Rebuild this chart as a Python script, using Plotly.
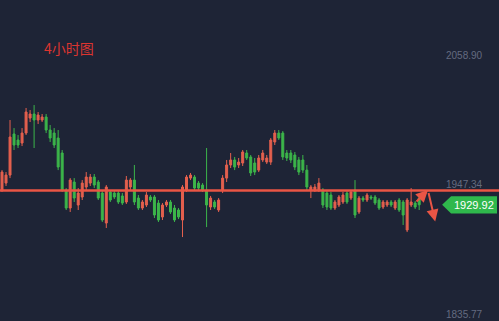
import plotly.graph_objects as go

# OHLC data (4-hour candles)
opens = [1942.6, 1948.6, 1955.5, 1990.9, 1985.7, 1983.1, 1991.7, 2004.6, 2008.1, 2002.9,
         2002.9, 2005.5, 1994.3, 1991.7, 1987.4, 1974.5, 1942.6, 1927.1, 1949.5, 1929.7,
         1936.6, 1945.2, 1948.6, 1953.8, 1949.5, 1940.0, 1914.2, 1940.9, 1940.0, 1940.0,
         1937.5, 1932.3, 1945.2, 1951.2, 1935.7, 1927.1, 1929.7, 1936.6, 1936.6, 1931.4,
         1919.4, 1929.7, 1932.3, 1927.1, 1925.4, 1916.8, 1942.6, 1952.9, 1953.8, 1948.6,
         1946.9, 1942.6, 1928.0, 1932.3, 1925.4, 1942.6, 1952.9, 1964.2, 1968.5, 1964.2,
         1965.9, 1974.5, 1971.1, 1965.9, 1959.8, 1968.5, 1966.7, 1966.7, 1984.0, 1991.7,
         1991.7, 1974.5, 1974.5, 1972.8, 1968.5, 1968.5, 1959.8, 1942.6, 1942.6, 1942.6,
         1942.6, 1940.0, 1938.3, 1927.1, 1929.7, 1932.3, 1940.0, 1935.7, 1942.6, 1923.7,
         1935.7, 1934.0, 1936.6, 1936.6, 1934.0, 1928.0, 1929.7, 1932.3, 1927.1, 1934.0,
         1932.3, 1908.2, 1929.7, 1931.4, 1935.7]
highs = [1959.8, 1958.1, 2002.9, 1996.0, 1990.0, 1996.0, 2013.3, 2011.5, 2015.8, 2009.8,
         2008.1, 2008.1, 1998.6, 1996.0, 1994.3, 1977.1, 1944.3, 1952.9, 1952.9, 1944.3,
         1951.2, 1958.1, 1956.4, 1956.4, 1951.2, 1942.6, 1946.9, 1942.6, 1942.6, 1941.7,
         1940.0, 1954.7, 1952.9, 1964.2, 1938.3, 1934.0, 1940.9, 1938.3, 1938.3, 1934.0,
         1931.4, 1934.0, 1934.0, 1929.7, 1927.1, 1946.9, 1955.5, 1957.3, 1955.5, 1950.4,
         1948.6, 1978.8, 1937.5, 1934.0, 1935.7, 1955.5, 1968.5, 1974.5, 1971.1, 1970.2,
         1977.1, 1977.1, 1972.8, 1970.2, 1972.8, 1977.1, 1972.8, 1987.4, 1994.3, 1994.3,
         1993.4, 1977.1, 1977.1, 1975.4, 1971.1, 1972.8, 1964.2, 1946.9, 1947.8, 1952.9,
         1944.3, 1942.6, 1940.9, 1934.0, 1938.3, 1940.9, 1941.7, 1942.6, 1951.2, 1937.5,
         1937.5, 1940.0, 1938.3, 1938.3, 1935.7, 1934.0, 1934.0, 1934.0, 1934.0, 1935.7,
         1934.0, 1935.7, 1944.3, 1933.1, 1937.5]
lows = [1940.9, 1946.1, 1952.9, 1977.1, 1978.8, 1980.5, 1990.0, 2001.2, 1978.8, 1999.5,
        2001.2, 1991.7, 1984.0, 1978.8, 1959.8, 1940.9, 1925.4, 1923.7, 1932.3, 1925.4,
        1934.0, 1942.6, 1946.1, 1944.3, 1934.0, 1915.1, 1909.9, 1932.3, 1934.9, 1930.6,
        1929.7, 1930.6, 1942.6, 1929.7, 1925.4, 1925.4, 1928.0, 1932.3, 1918.5, 1915.1,
        1916.8, 1928.0, 1922.0, 1915.1, 1917.6, 1902.1, 1940.9, 1951.2, 1942.6, 1942.6,
        1940.9, 1910.7, 1925.4, 1926.3, 1923.7, 1940.0, 1949.5, 1961.6, 1959.8, 1961.6,
        1963.3, 1968.5, 1954.7, 1955.5, 1958.1, 1966.7, 1965.0, 1964.2, 1981.4, 1985.7,
        1968.5, 1967.6, 1965.9, 1959.8, 1955.5, 1957.3, 1942.6, 1935.7, 1940.9, 1940.9,
        1927.1, 1925.4, 1925.4, 1925.4, 1928.0, 1930.6, 1930.6, 1934.0, 1918.5, 1922.0,
        1932.3, 1932.3, 1934.0, 1929.7, 1925.4, 1926.3, 1928.0, 1928.0, 1925.4, 1923.7,
        1912.5, 1906.4, 1928.0, 1926.3, 1925.4]
closes = [1958.1, 1955.5, 1988.3, 1981.4, 1981.4, 1991.7, 2009.8, 2008.1, 2002.9, 2007.2,
          2005.5, 1994.3, 1987.4, 1981.4, 1962.4, 1942.6, 1927.1, 1951.2, 1935.7, 1940.0,
          1948.6, 1953.8, 1953.8, 1946.9, 1935.7, 1916.8, 1945.2, 1934.0, 1936.6, 1932.3,
          1931.4, 1951.2, 1951.2, 1932.3, 1927.1, 1932.3, 1938.3, 1934.0, 1921.1, 1916.8,
          1929.7, 1932.3, 1923.7, 1916.8, 1919.4, 1945.2, 1953.8, 1955.5, 1944.3, 1944.3,
          1942.6, 1929.7, 1935.7, 1928.0, 1934.0, 1952.9, 1964.2, 1968.5, 1962.4, 1966.7,
          1975.4, 1970.2, 1957.3, 1958.1, 1970.2, 1974.5, 1970.2, 1985.7, 1991.7, 1987.4,
          1971.1, 1970.2, 1968.5, 1962.4, 1958.1, 1959.8, 1945.2, 1945.2, 1945.2, 1948.6,
          1929.7, 1928.0, 1927.1, 1932.3, 1936.6, 1938.3, 1932.3, 1940.9, 1921.1, 1935.7,
          1934.0, 1938.3, 1935.7, 1931.4, 1927.1, 1932.3, 1932.3, 1929.7, 1932.3, 1925.4,
          1921.1, 1934.0, 1932.3, 1928.0, 1929.9]
bars = list(range(len(opens)))

axis_levels = [2058.90, 1947.34, 1835.77]
axis_labels = ["2058.90", "1947.34", "1835.77"]
support_level = 1942.2
last_price = 1929.92
last_label = "1929.92"
title_text = "4小时图"

BG = "#1e2436"
UP = "#e4604e"
DOWN = "#3cb54a"
LINE_RED = "#ea5545"

fig = go.Figure()
fig.add_trace(go.Candlestick(
    x=bars, open=opens, high=highs, low=lows, close=closes,
    increasing=dict(line=dict(color=UP, width=1), fillcolor=UP),
    decreasing=dict(line=dict(color=DOWN, width=1), fillcolor=DOWN),
    whiskerwidth=0, showlegend=False, hoverinfo="skip",
))

# hand-drawn horizontal level line
fig.add_shape(type="line", xref="paper", yref="y", x0=0, x1=1,
              y0=support_level, y1=support_level,
              line=dict(color=LINE_RED, width=2.5))

# price scale labels
for lv, lb in zip(axis_levels, axis_labels):
    fig.add_annotation(x=0.972, xref="paper", y=lv, yref="y", text=lb,
                       showarrow=False, xanchor="right", yanchor="middle",
                       font=dict(family="Liberation Sans, Arial", size=10, color="#646b80"))

# last-price tag
fig.add_shape(type="path", xref="paper", yref="y",
              path=f"M 0.886 {last_price} L 0.904 1937.3 L 0.996 1937.3 L 0.996 1922.5 L 0.904 1922.5 Z",
              fillcolor="#2fb84c", line=dict(width=0))
fig.add_annotation(x=0.95, xref="paper", y=last_price, yref="y", text=last_label,
                   showarrow=False, xanchor="center", yanchor="middle",
                   font=dict(family="Liberation Sans, Arial", size=11, color="white"))

# arrows
fig.add_annotation(x=106.2, y=1942.6, xref="x", yref="y", text="", showarrow=True,
                   ax=-13, ay=13, arrowhead=2, arrowsize=1.2, arrowwidth=2, arrowcolor=LINE_RED)
fig.add_annotation(x=108.0, y=1915.5, xref="x", yref="y", text="", showarrow=True,
                   ax=-7, ay=-30, arrowhead=2, arrowsize=1.2, arrowwidth=2, arrowcolor=LINE_RED)

# title
fig.add_annotation(x=42 / 499, y=1 - 48 / 321, xref="paper", yref="paper", text=title_text,
                   showarrow=False, xanchor="left", yanchor="middle",
                   font=dict(family="Noto Sans CJK SC", size=14, color="#dc3530"))

fig.update_layout(
    width=499, height=321,
    margin=dict(l=0, r=0, t=0, b=0),
    paper_bgcolor=BG, plot_bgcolor=BG,
    xaxis=dict(range=[-0.5, 123.9], visible=False, rangeslider=dict(visible=False),
               showgrid=False, zeroline=False),
    yaxis=dict(range=[1829.8, 2106.3], visible=False, showgrid=False, zeroline=False),
    showlegend=False,
)

fig.write_html("out.html")
